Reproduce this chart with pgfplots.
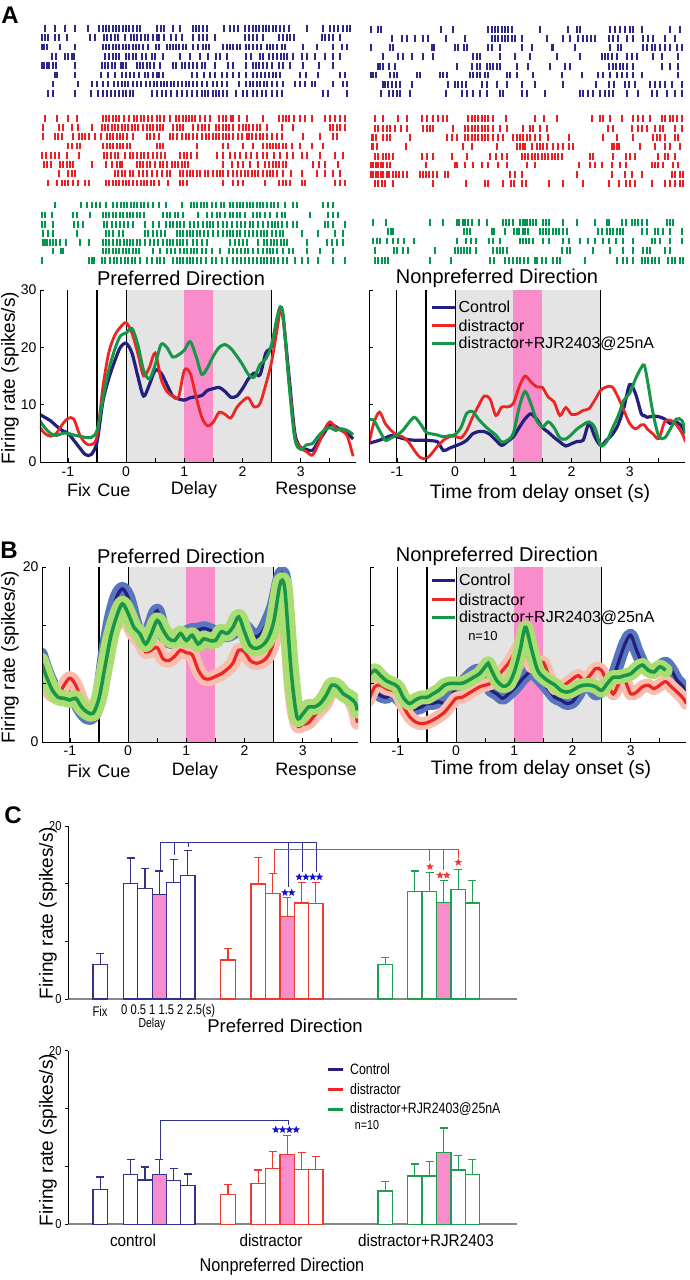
\documentclass[border=0pt]{standalone}
\usepackage{fontspec}
\setmainfont{Liberation Sans}
\usepackage{graphicx}
\usepackage{pgfplots}
\usepackage{pgfplotstable}
\usetikzlibrary{shapes.geometric}
\pgfplotsset{compat=1.18}

\definecolor{cnavy}{RGB}{35,31,125}
\definecolor{cred}{RGB}{236,38,36}
\definecolor{cgreen}{RGB}{24,150,72}
\definecolor{cgray}{RGB}{228,228,228}
\definecolor{cpink}{RGB}{249,140,202}
\definecolor{rblue}{RGB}{45,40,135}
\definecolor{rred}{RGB}{236,30,36}
\definecolor{rgreen}{RGB}{0,150,80}
\definecolor{bandB}{RGB}{88,118,192}
\definecolor{bandR}{RGB}{250,190,175}
\definecolor{bandG}{RGB}{170,222,115}
\definecolor{cbB}{RGB}{50,50,140}
\definecolor{cbR}{RGB}{238,58,48}
\definecolor{cbG}{RGB}{30,160,80}
\definecolor{cbase}{RGB}{135,135,135}
\definecolor{stB}{RGB}{20,20,200}

\newcommand\fs[1]{\fontsize{#1}{#1}\selectfont}
\newcommand\cond[2][0.85]{\scalebox{#1}[1]{#2}}

% raster row: color, row position, spike positions
\newcommand\R[3]{\gdef\pts{}\foreach \rv in {#3}{\xdef\pts{\pts(\rv,#2)}}\edef\tmp{\noexpand\addplot[rast,#1] coordinates {\pts};}\tmp}

\tikzset{vl/.style={black, line width=1.1pt},
 st/.style={star, star points=5, star point ratio=2.3, fill, draw=none, inner sep=0pt, minimum size=8pt}}
\pgfplotsset{
 rast/.style={only marks, mark=|, mark size=3.4pt, line width=1.9pt},
 rastax/.style={scale only axis, width=318pt, height=270pt, anchor=center, ymin=0, ymax=810, y dir=reverse, hide axis, clip=false},
 lp/.style={scale only axis, width=316pt, xmin=-1.48, xmax=3.95, axis lines*=left,
   axis line style={line width=0.9pt}, tick align=inside, major tick length=4pt, minor tick length=4pt,
   xtick={-1,0,1,2,3}, xticklabels={-1,0,1,2,3}, minor xtick={-0.5,0.5,1.5,2.5,3.5},
   tick style={black, line width=0.8pt}, ticklabel style={font=\fs{14}}, axis on top, anchor=south west},
 cbax/.style={scale only axis, width=449pt, xmin=68, xmax=517, ymin=0, ymax=20, axis lines*=left,
   x axis line style={draw=cbase, line width=2pt}, y axis line style={line width=0.8pt},
   xtick=\empty, ytick={0,20}, yticklabels={\cond{0},\cond{20}}, minor ytick={6.667,13.333},
   tick align=outside, major tick length=3pt, minor tick length=3pt, tick style={black, line width=0.8pt},
   ticklabel style={font=\fs{13}}, clip=false, anchor=south west},
 cb/.style={ybar, bar width=14.4, bar shift=0pt, line width=1.2pt,
   error bars/y dir=plus, error bars/y explicit, error bars/error bar style={line width=1.2pt},
   error bars/error mark options={rotate=90, mark size=4pt, line width=1.2pt}},
}

\pgfplotstableread{
t b r g
-1.5 8.4 6.3 7.5
-1.4 7.8 5.0 6.0
-1.3 7.2 4.5 5.0
-1.2 6.3 5.0 4.6
-1.1 5.5 6.5 5.0
-1.0 5.0 7.6 5.0
-0.9 3.8 7.5 4.7
-0.8 2.5 4.8 4.5
-0.7 1.3 3.3 4.3
-0.6 1.3 3.0 4.3
-0.5 3.5 4.5 5.5
-0.4 10.5 13.0 11.0
-0.3 14.5 19.0 16.0
-0.2 17.5 22.0 19.5
-0.1 20.0 23.5 22.0
0.0 20.7 24.3 22.5
0.1 19.0 22.5 23.3
0.2 15.0 19.0 20.5
0.3 11.5 15.0 16.0
0.4 13.5 16.5 14.5
0.5 16.0 19.0 17.0
0.6 15.5 14.5 20.5
0.7 13.5 12.3 20.0
0.8 11.5 11.5 18.3
0.9 11.0 11.3 18.7
1.0 10.8 16.0 19.5
1.1 11.2 15.5 21.0
1.2 11.4 11.5 18.5
1.3 11.6 7.8 15.3
1.4 12.5 6.3 16.5
1.5 12.8 7.0 18.5
1.6 13.0 8.7 20.0
1.7 12.3 8.3 20.5
1.8 11.3 7.7 19.8
1.9 11.5 9.5 18.5
2.0 12.8 10.6 17.0
2.1 14.5 11.2 15.3
2.2 15.5 9.6 14.8
2.3 15.2 10.2 17.0
2.4 19.0 13.5 18.0
2.5 20.2 17.5 20.5
2.6 25.0 23.5 25.5
2.65 27.0 26.5 27.0
2.7 25.0 25.0 25.5
2.8 14.9 14.0 13.5
2.9 5.0 4.5 4.0
3.0 2.5 2.5 2.2
3.1 2.2 1.8 3.0
3.2 2.0 1.2 3.2
3.3 3.5 3.0 4.5
3.4 5.0 5.5 5.5
3.5 6.5 7.0 6.0
3.6 6.2 6.0 5.5
3.7 5.5 5.5 5.8
3.8 5.0 4.5 5.5
3.9 4.0 1.0 4.8
}\tAL

\pgfplotstableread{
t b r g
-1.5 3.2 2.3 7.4
-1.4 3.5 6.7 7.3
-1.3 3.8 8.7 5.5
-1.2 4.2 6.7 3.8
-1.1 4.6 5.5 4.2
-1.0 4.4 4.7 4.7
-0.9 4.1 4.4 5.5
-0.8 3.9 3.5 6.8
-0.7 3.8 2.0 7.8
-0.6 3.8 0.8 6.7
-0.5 3.8 0.6 5.2
-0.4 3.7 1.5 4.9
-0.3 3.5 2.8 4.7
-0.2 2.0 3.8 4.4
-0.1 2.4 4.4 4.6
0.0 2.8 4.5 4.8
0.1 3.2 4.2 6.0
0.2 3.8 5.5 8.5
0.3 4.9 7.8 8.8
0.4 5.3 9.8 7.5
0.5 5.3 11.5 6.4
0.6 4.8 11.0 5.5
0.7 3.8 8.1 4.7
0.8 2.9 9.6 3.5
0.9 3.6 9.6 3.8
1.0 4.4 10.2 5.0
1.1 6.0 13.1 9.5
1.2 7.5 15.0 12.3
1.3 8.4 14.0 10.2
1.4 7.5 13.1 7.3
1.5 6.0 13.0 6.1
1.6 5.2 11.3 7.0
1.7 4.3 10.5 6.0
1.8 3.5 8.1 4.2
1.9 2.8 9.5 4.0
2.0 3.2 8.3 4.8
2.1 3.6 8.4 5.8
2.2 3.8 9.0 6.5
2.3 6.7 9.3 7.0
2.4 4.4 10.8 6.0
2.5 2.9 12.5 2.9
2.6 3.8 13.1 3.5
2.7 4.8 13.1 5.8
2.8 6.5 11.3 8.0
2.9 9.5 9.0 10.8
3.0 13.5 6.7 12.0
3.1 11.9 5.8 14.5
3.2 8.4 6.5 16.5
3.25 8.1 6.5 16.9
3.3 7.8 5.8 14.5
3.4 8.0 4.9 8.5
3.5 7.9 4.1 4.5
3.6 7.5 7.0 4.2
3.7 6.7 7.3 5.8
3.8 7.0 6.5 7.5
3.9 6.1 5.0 7.2
3.96 4.9 3.5 4.9
}\tAR

\pgfplotstableread{
t b r g
-1.5 10.0 6.5 9.3
-1.4 8.0 6.0 7.4
-1.3 6.5 5.3 5.9
-1.2 5.8 5.3 5.1
-1.1 5.5 6.5 5.0
-1.0 5.0 7.3 4.8
-0.9 4.6 6.5 5.0
-0.8 3.5 4.8 4.0
-0.7 2.8 3.8 3.4
-0.6 3.0 3.5 3.3
-0.5 5.0 5.0 5.0
-0.4 10.0 8.5 8.5
-0.3 14.0 12.0 12.0
-0.2 16.5 13.5 14.3
-0.1 17.5 14.0 15.8
0.0 16.5 13.5 14.7
0.1 14.0 12.2 13.1
0.2 12.0 11.5 12.4
0.3 11.5 10.3 11.2
0.4 13.5 10.5 12.4
0.5 15.0 10.8 13.9
0.6 12.5 9.5 12.8
0.7 11.5 9.3 11.8
0.8 11.5 9.8 11.6
0.9 12.0 10.5 12.4
1.0 12.5 10.2 11.6
1.1 12.8 10.0 12.2
1.2 12.8 8.3 11.2
1.3 13.0 7.3 11.8
1.4 12.8 7.2 11.6
1.5 12.5 7.5 11.6
1.6 12.3 7.8 12.6
1.7 12.2 8.3 12.4
1.8 12.5 9.0 13.1
1.9 13.0 10.5 14.3
2.0 13.2 10.3 12.6
2.1 12.5 9.3 11.0
2.2 12.0 9.0 10.7
2.3 12.5 9.2 11.0
2.4 13.8 9.8 11.8
2.5 15.5 11.5 13.7
2.6 18.5 16.0 17.7
2.65 19.3 17.5 18.5
2.7 17.5 15.5 17.0
2.8 8.0 6.0 8.2
2.9 2.5 2.0 2.9
3.0 2.2 2.0 3.2
3.1 3.5 2.2 4.0
3.2 3.8 3.0 4.0
3.3 4.2 3.7 4.4
3.4 5.5 4.5 5.3
3.5 6.3 6.0 6.5
3.6 6.2 6.2 6.3
3.7 5.6 5.5 5.5
3.8 5.0 5.0 5.1
3.9 4.0 3.5 4.5
3.94 3.6 2.2 3.6
}\tBL

\pgfplotstableread{
t b r g
-1.5 5.1 4.8 7.6
-1.4 5.7 6.3 8.2
-1.3 5.3 6.5 7.6
-1.2 5.1 6.1 7.0
-1.1 5.5 5.9 6.7
-1.0 5.0 5.5 6.3
-0.9 4.2 4.0 5.0
-0.8 3.6 2.9 4.4
-0.7 3.8 2.3 4.8
-0.6 4.0 2.1 5.1
-0.5 4.4 2.2 5.1
-0.4 4.4 2.5 5.5
-0.3 4.6 2.9 5.9
-0.2 4.4 3.4 6.5
-0.1 5.1 4.2 6.7
0.0 6.1 5.0 6.7
0.1 6.7 5.1 6.7
0.2 7.4 5.5 7.0
0.3 8.0 5.9 7.4
0.4 8.2 6.3 7.8
0.5 7.0 6.5 8.6
0.55 6.5 6.6 9.0
0.6 5.9 6.7 8.3
0.7 5.5 7.4 7.0
0.8 5.0 8.2 6.4
0.9 5.5 9.0 6.6
1.0 6.1 10.1 8.0
1.1 6.9 11.2 10.5
1.15 7.3 11.4 12.2
1.2 7.6 10.5 13.1
1.3 8.2 8.6 10.5
1.4 7.4 9.0 8.2
1.5 6.7 9.1 7.4
1.6 5.9 7.4 6.9
1.7 5.1 6.1 6.5
1.8 4.8 6.3 5.9
1.9 4.4 6.7 5.7
2.0 4.6 7.2 5.9
2.1 5.5 7.6 6.3
2.2 6.7 7.0 6.5
2.3 6.3 7.6 6.5
2.4 5.5 8.4 6.3
2.5 5.9 8.2 5.9
2.6 6.5 6.7 6.7
2.7 7.4 5.5 7.4
2.8 9.3 6.7 7.4
2.9 11.2 7.0 7.6
3.0 12.2 5.5 7.8
3.1 10.5 5.7 8.4
3.2 9.0 6.3 8.8
3.3 8.2 6.5 8.2
3.4 8.2 6.1 8.0
3.5 8.6 6.5 8.6
3.6 9.0 6.9 8.2
3.7 8.2 6.3 nan
3.8 7.0 5.7 nan
3.9 6.3 5.0 nan
3.96 4.8 4.4 nan
}\tBR

\begin{document}
\begin{tikzpicture}
\path[use as bounding box] (0pt,0pt) rectangle (689pt,-1280pt);

%================ A rasters, left
\begin{axis}[rastax, at={(199pt,-135pt)}, xmin=120, xmax=1074]
\R{rblue}{85}{135,165,195,225,265,298,308,318,328,338,348,358,368,378,388,398,410,420,470,482,492,520,540,578,588,598,608,620,672,690,702,714,735,748,758,768,778,788,798,808,818,828,840,852,868,920,970,990,1002,1015,1028,1040,1050}
\R{rblue}{113}{125,135,145,165,178,200,270,285,312,322,332,345,355,375,392,402,412,422,435,445,458,470,478,492,512,528,545,578,598,610,620,645,735,748,758,770,790,838,850,860,870,882,965,975,988,1000,1020}
\R{rblue}{141}{125,132,140,180,225,308,318,328,338,348,358,368,378,388,398,408,418,430,445,468,478,500,510,520,528,538,548,558,578,595,608,618,628,668,680,690,700,710,720,738,748,758,770,782,800,810,820,830,845,855,910,950,1000,1025,1040}
\R{rblue}{169}{155,168,195,205,215,222,315,328,338,348,358,378,388,398,408,425,438,455,465,490,540,570,600,625,648,660,680,738,752,780,790,808,820,832,842,852,862,880,905,920,945,975,1000,1020}
\R{rblue}{197}{125,132,140,148,158,168,225,305,315,325,335,345,362,370,378,410,420,430,440,450,462,480,518,528,545,555,568,578,592,605,615,645,685,700,738,758,768,778,788,800,815,838,850,870,910,958,1000}
\R{rblue}{225}{165,170,225,303,325,345,365,378,390,402,418,435,445,460,470,478,490,575,590,612,630,645,665,680,700,718,738,760,772,782,795,808,818,828,840,900,918,955,1020,1035}
\R{rblue}{252}{158,235,275,290,308,325,342,355,365,375,385,398,412,422,438,450,462,472,482,492,502,512,522,535,545,558,568,580,592,605,620,638,650,665,680,718,738,750,760,770,780,792,802,815,830,850,885,900,915,935,945,1000,1030,1042}
\R{rblue}{280}{145,158,225,272,295,310,322,332,345,358,368,378,390,398,455,470,485,498,512,530,545,560,575,590,605,615,625,638,648,658,668,680,708,728,742,758,772,785,798,815,830,845,970,985,1040}
\R{rred}{355}{135,170,205,230,308,318,328,338,348,358,372,388,402,412,422,432,445,455,470,480,492,510,528,538,548,558,568,575,585,600,615,630,658,668,678,692,700,718,740,790,838,848,858,868,882,900,915,935,975,990,1005,1020,1035}
\R{rred}{383}{128,178,190,215,235,275,305,315,325,335,345,355,365,375,385,395,405,415,428,440,450,460,470,480,490,518,530,540,550,578,595,605,615,628,648,658,668,678,688,700,718,730,738,748,758,770,780,800,845,880,990,1000,1010,1020,1035}
\R{rred}{410}{130,165,175,185,218,238,245,255,268,285,302,320,330,340,350,360,370,380,400,440,450,462,478,510,520,530,545,558,568,578,592,605,618,628,638,648,658,668,678,688,698,715,725,740,748,755,768,780,790,800,815,830,845,910,960,1000,1010}
\R{rred}{438}{205,215,232,240,310,320,330,340,350,360,370,380,390,470,480,488,590,670,685,730,760,790,800,810,818,828,838,848,858,875,900,935,968}
\R{rred}{466}{125,138,152,165,178,200,238,312,322,332,345,355,375,390,398,412,422,432,445,458,470,482,495,540,552,562,572,590,650,668,690,705,720,738,752,770,790,800,822,840,860,880,905,920,960,1005,1030}
\R{rred}{493}{132,142,152,180,190,200,210,220,275,318,335,350,360,365,410,420,430,440,450,465,480,490,500,515,525,535,545,555,565,670,695,715,730,750,775,795,808,818,828,838,848,858,938,958,975,1015}
\R{rred}{521}{178,205,215,225,345,355,365,375,390,400,418,428,440,455,470,485,500,510,540,550,560,570,580,590,600,615,625,640,650,660,670,685,700,712,722,735,745,755,765,775,790,800,810,820,830,850,872,905,950,975,1000,1020}
\R{rred}{549}{145,170,185,195,205,220,235,255,268,318,328,338,348,358,368,378,388,398,410,422,432,442,452,462,478,505,540,550,560,670,700,715,728,795,838,848,858,870,905,915,1005,1020,1035}
\R{rgreen}{615}{165,242,262,275,288,300,318,338,352,362,372,382,392,402,412,422,432,445,458,478,498,545,572,582,592,602,612,622,635,648,662,672,690,700,710,720,730,740,750,760,770,780,790,800,812,822,835,855,880,890,968,985,1000}
\R{rgreen}{645}{125,135,155,218,232,270,308,318,328,338,348,360,370,380,390,400,410,420,432,490,500,510,525,535,548,595,620,635,650,660,675,690,700,710,720,735,760,770,780,795,810,830,845,855,930,985,1000,1015}
\R{rgreen}{673}{125,135,160,222,235,248,312,322,335,348,360,372,385,398,435,458,478,498,510,520,530,540,552,570,582,595,610,620,630,640,655,668,680,695,710,722,735,750,760,775,790,805,815,825,835,845,860,878,890,975,985,1000,1035}
\R{rgreen}{700}{130,145,160,232,318,328,338,358,368,435,445,458,470,482,495,530,540,550,560,570,580,590,600,612,625,640,655,670,680,690,700,710,720,735,748,760,772,782,792,802,815,828,840,850,905,955,1005,1030}
\R{rgreen}{728}{128,135,142,150,158,168,180,198,240,268,308,318,328,340,350,360,372,380,390,400,410,420,435,450,462,475,488,500,510,520,530,540,550,560,578,590,605,620,690,705,718,730,742,775,792,802,812,822,832,842,852,862,922,980,995,1010,1030}
\R{rgreen}{753}{158,182,190,308,318,328,338,348,358,368,378,388,398,408,418,460,480,500,512,525,540,552,562,572,582,592,605,618,635,660,688,698,710,722,735,745,760,775,790,800,810,820,830,850,868,880,920,960,1000}
\R{rgreen}{782}{125,268,275,282,305,315,330,342,352,362,375,385,395,405,420,440,455,470,480,492,520,530,540,550,560,570,580,590,602,618,635,648,665,682,700,712,722,735,748,760,772,782,792,802,812,822,835,850,860,885,905,925,955,1000,1035}
\end{axis}

%================ A rasters, right
\begin{axis}[rastax, at={(528pt,-135pt)}, xmin=87, xmax=1041]
\R{rblue}{88}{92,115,122,303,340,445,455,465,475,485,495,505,515,600,685,710,720,810,825,840,855,870,880,905,990,1020}
\R{rblue}{115}{155,185,200,225,250,265,318,375,455,465,475,485,495,505,515,525,545,620,670,690,715,728,740,752,765,808,820,835,860,880,910,925,940,975,1005}
\R{rblue}{143}{92,150,158,275,282,345,355,372,380,445,455,480,545,575,635,640,705,810,835,842,910,920,935,945,960,975,990,1010,1025}
\R{rblue}{170}{128,175,190,215,250,278,400,410,420,480,525,570,650,720,785,795,805,815,830,860,875,890,940,965,1015}
\R{rblue}{200}{113,120,128,148,165,350,395,410,420,440,450,460,470,480,530,565,630,675,690,808,818,828,840,850,860,880,965,990,1015}
\R{rblue}{225}{92,100,108,150,162,170,230,240,300,308,320,390,400,410,420,435,445,500,510,530,580,665,725,775,788,810,830,845,860,880,905,1015}
\R{rblue}{253}{128,135,145,155,168,180,215,325,345,355,365,378,425,440,470,500,545,585,670,768,808,822,855,868,885,930,945,960,975,995,1025}
\R{rblue}{280}{122,148,160,170,180,210,318,365,380,400,420,440,480,490,545,560,615,720,730,745,760,780,795,808,820,860,895,935,950,980,1005,1025}
\R{rred}{355}{105,128,175,200,245,262,280,295,310,320,385,395,405,415,425,435,445,458,498,585,612,650,755,780,790,810,845,880,895,910,930,965,975,990,1000,1010,1025}
\R{rred}{385}{105,115,130,142,150,165,182,200,250,260,270,280,338,375,385,395,405,415,425,435,445,458,480,500,548,570,578,600,620,805,818,875,895,905,920,945,960,970,1005,1025}
\R{rred}{412}{95,100,108,130,140,150,210,322,335,350,375,385,395,405,415,425,435,445,460,475,490,520,530,540,550,560,570,585,600,625,688,790,830,878,940,950,960,975,1005,1015}
\R{rred}{440}{95,100,112,198,370,395,470,530,540,548,555,575,590,600,610,620,640,655,670,688,700,815,822,830,838,900,945,975,990,1020}
\R{rred}{470}{105,115,130,138,148,160,245,262,278,335,382,450,468,485,500,545,555,565,575,585,595,605,615,625,635,645,655,665,750,760,818,858,870,885,955,975,985,1005}
\R{rred}{495}{92,100,108,115,122,130,140,150,258,345,352,375,400,425,445,475,500,560,585,718,750,765,785,815,840,858,935,945,955,970,1000,1015}
\R{rred}{523}{92,100,108,115,122,130,140,148,158,168,178,190,200,240,250,258,268,280,292,315,325,510,525,545,712,815,855,875,905,995,1005,1020,1030}
\R{rred}{550}{105,115,125,135,160,278,378,435,445,490,512,522,545,558,628,668,728,808,838,858,870,885,935,975,990,1005,1020,1030}
\R{rgreen}{667}{100,138,270,310,350,358,368,375,385,395,418,440,490,498,508,518,540,548,555,562,570,578,588,608,618,628,668,710,765,800,808,845,858,875,885,895,905,920,980,990,1000}
\R{rgreen}{695}{145,152,160,372,380,390,455,462,495,522,530,538,548,555,565,600,608,618,628,638,648,658,668,680,775,785,800,810,820,830,840,850,905,920,945,955,970,990,1025}
\R{rgreen}{723}{100,110,120,140,160,175,192,222,350,378,392,408,448,460,480,540,548,558,568,578,608,628,668,688,720,745,765,790,808,828,848,880,935,945,960,990,1025}
\R{rgreen}{752}{105,162,170,190,205,285,345,355,362,372,380,390,408,460,470,480,490,500,665,680,690,760,810,850,880,908,920,930,975,990}
\R{rgreen}{782}{105,115,125,135,145,270,332,450,462,495,508,520,530,540,552,565,585,592,605,618,640,650,660,735,830,848,862,880,905,915,925,935,945,958,985,995,1005,1020,1030}
\end{axis}

%================ A line plots
\begin{axis}[lp, at={(40pt,-462pt)}, height=172pt, ymin=0, ymax=30, ytick={0,10,20,30}, yticklabels={0,10,20,30}, xticklabel style={yshift=-1pt}]
\fill[cgray] (axis cs:0,0) rectangle (axis cs:2.5,30);
\fill[cpink] (axis cs:1,0) rectangle (axis cs:1.5,30);
\pgfplotsinvokeforeach{-1,-0.5,0,2.5}{\draw[vl] (axis cs:#1,0) -- (axis cs:#1,30);}
\addplot[cnavy, line width=3.2pt, smooth] table[x=t,y=b]{\tAL};
\addplot[cred, line width=2.8pt, smooth] table[x=t,y=r]{\tAL};
\addplot[cgreen, line width=3pt, smooth] table[x=t,y=g]{\tAL};
\end{axis}

\begin{axis}[lp, at={(369pt,-462pt)}, height=172pt, ymin=0, ymax=30, ytick={0,10,20,30}, yticklabels={,,,}, xticklabel style={yshift=-1pt}]
\fill[cgray] (axis cs:0,0) rectangle (axis cs:2.5,30);
\fill[cpink] (axis cs:1,0) rectangle (axis cs:1.5,30);
\pgfplotsinvokeforeach{-1,-0.5,0,2.5}{\draw[vl] (axis cs:#1,0) -- (axis cs:#1,30);}
\draw[cnavy, line width=3pt] (axis cs:-0.40,27.0) -- (axis cs:0,27.0);
\draw[cred, line width=3pt] (axis cs:-0.40,23.8) -- (axis cs:0,23.8);
\draw[cgreen, line width=3pt] (axis cs:-0.40,20.6) -- (axis cs:0,20.6);
\node[anchor=west, font=\fs{16}, inner sep=1pt] at (axis cs:0.04,27.0) {Control};
\node[anchor=west, font=\fs{16}, inner sep=1pt] at (axis cs:0.04,23.8) {distractor};
\node[anchor=west, font=\fs{16}, inner sep=1pt] at (axis cs:0.04,20.6) {distractor+RJR2403@25nA};
\addplot[cnavy, line width=3.2pt, smooth] table[x=t,y=b]{\tAR};
\addplot[cred, line width=2.8pt, smooth] table[x=t,y=r]{\tAR};
\addplot[cgreen, line width=3pt, smooth] table[x=t,y=g]{\tAR};
\end{axis}

%================ B line plots
\begin{axis}[lp, at={(42pt,-742pt)}, height=175pt, ymin=0, ymax=20, ytick={0,20}, yticklabels={0,20}, minor ytick={6.667,13.333}]
\fill[cgray] (axis cs:0,0) rectangle (axis cs:2.5,20);
\fill[cpink] (axis cs:1,0) rectangle (axis cs:1.5,20);
\pgfplotsinvokeforeach{-1,-0.5,0,2.5}{\draw[vl] (axis cs:#1,0) -- (axis cs:#1,20);}
\addplot[bandB, line width=14pt, smooth, line join=round, line cap=round] table[x=t,y=b]{\tBL};
\addplot[cnavy, line width=3.2pt, smooth] table[x=t,y=b]{\tBL};
\addplot[bandR, line width=14pt, smooth, line join=round, line cap=round] table[x=t,y=r]{\tBL};
\addplot[cred, line width=3.2pt, smooth] table[x=t,y=r]{\tBL};
\addplot[bandG, line width=16pt, smooth, line join=round, line cap=round] table[x=t,y=g]{\tBL};
\addplot[cgreen, line width=3.5pt, smooth] table[x=t,y=g]{\tBL};
\end{axis}

\begin{axis}[lp, at={(370pt,-742pt)}, height=175pt, ymin=0, ymax=20, ytick={0,20}, yticklabels={,}, minor ytick={6.667,13.333}]
\fill[cgray] (axis cs:0,0) rectangle (axis cs:2.5,20);
\fill[cpink] (axis cs:1,0) rectangle (axis cs:1.5,20);
\pgfplotsinvokeforeach{-1,-0.5,0,2.5}{\draw[vl] (axis cs:#1,0) -- (axis cs:#1,20);}
\draw[cnavy, line width=3pt] (axis cs:-0.41,18.5) -- (axis cs:-0.02,18.5);
\draw[cred, line width=3pt] (axis cs:-0.41,16.3) -- (axis cs:-0.02,16.3);
\draw[cgreen, line width=3pt] (axis cs:-0.41,14.2) -- (axis cs:-0.02,14.2);
\node[anchor=west, font=\fs{16}, inner sep=1pt] at (axis cs:0.03,18.5) {Control};
\node[anchor=west, font=\fs{16}, inner sep=1pt] at (axis cs:0.03,16.3) {distractor};
\node[anchor=west, font=\fs{16}, inner sep=1pt] at (axis cs:0.03,14.2) {distractor+RJR2403@25nA};
\node[font=\fs{13}] at (axis cs:0.46,12.1) {n=10};
\addplot[bandB, line width=13pt, smooth, line join=round, line cap=round] table[x=t,y=b]{\tBR};
\addplot[cnavy, line width=3.2pt, smooth] table[x=t,y=b]{\tBR};
\addplot[bandR, line width=13pt, smooth, line join=round, line cap=round] table[x=t,y=r]{\tBR};
\addplot[cred, line width=3.2pt, smooth] table[x=t,y=r]{\tBR};
\addplot[bandG, line width=14pt, smooth, line join=round, line cap=round] table[x=t,y=g]{\tBR};
\addplot[cgreen, line width=3.5pt, smooth] table[x=t,y=g]{\tBR};
\end{axis}

%================ C top bars
\begin{axis}[cbax, at={(68pt,-999pt)}, height=173pt]
\addplot[cb, cbB, fill=white] coordinates {(100.2,3.96) +- (0,1.34) (130.5,13.4) +- (0,2.9) (145,12.8) +- (0,2.3) (173.5,13.5) +- (0,2.6) (187.8,14.3) +- (0,2.9)};
\addplot[cb, cbB, fill=cpink] coordinates {(159.3,12.1) +- (0,2.7)};
\addplot[cb, cbR, fill=white] coordinates {(228,4.5) +- (0,1.3) (258.2,13.3) +- (0,3.1) (272.8,12.2) +- (0,2.3) (301.5,11.1) +- (0,2.4) (315.7,11.0) +- (0,2.5)};
\addplot[cb, cbR, fill=cpink] coordinates {(287.2,9.5) +- (0,2.2)};
\addplot[cb, cbG, fill=white] coordinates {(385.2,4.0) +- (0,0.8) (414.8,12.4) +- (0,2.4) (429.5,12.4) +- (0,2.2) (458.2,12.65) +- (0,2.35) (472.3,11.1) +- (0,2.6)};
\addplot[cb, cbG, fill=cpink] coordinates {(443.8,11.2) +- (0,2.5)};
% significance brackets
\draw[cbB, line width=1pt] (axis cs:160,14.8) |- (axis cs:316.7,18.1) -- (axis cs:316.7,14.7);
\draw[cbB, line width=1pt] (axis cs:174,18.1) -- (axis cs:174,16.65);
\draw[cbB, line width=1pt] (axis cs:188.3,18.1) -- (axis cs:188.3,17.6);
\draw[cbB, line width=1pt] (axis cs:288.7,18.1) -- (axis cs:288.7,12.9);
\draw[cbB, line width=1pt] (axis cs:302.7,18.1) -- (axis cs:302.7,14.7);
\draw[cbR, line width=1pt] (axis cs:274,14.5) |- (axis cs:458.3,17.3) -- (axis cs:458.3,16.3);
\draw[cbR, line width=1pt] (axis cs:429,17.3) -- (axis cs:429,15.9);
\draw[cbR, line width=1pt] (axis cs:443.3,17.3) -- (axis cs:443.3,14.9);
\pgfplotsinvokeforeach{284.9,291.7}{\node[st, stB] at (axis cs:#1,12.3) {};}
\pgfplotsinvokeforeach{299.1,305.9,312.7,319.5}{\node[st, stB] at (axis cs:#1,14.1) {};}
\node[st, cbR] at (axis cs:430,15.3) {};
\pgfplotsinvokeforeach{440,446.8}{\node[st, cbR] at (axis cs:#1,14.3) {};}
\node[st, cbR] at (axis cs:458.3,15.8) {};
\end{axis}

%================ C bottom bars
\begin{axis}[cbax, at={(68pt,-1224.3pt)}, height=173.6pt]
\addplot[cb, cbB, fill=white] coordinates {(100.2,4.0) +- (0,1.45) (130.5,5.76) +- (0,1.74) (145,5.1) +- (0,1.5) (173.5,5.07) +- (0,1.38) (187.8,4.5) +- (0,1.3)};
\addplot[cb, cbB, fill=cpink] coordinates {(159.3,5.76) +- (0,1.74)};
\addplot[cb, cbR, fill=white] coordinates {(228,3.4) +- (0,1.2) (258.2,4.7) +- (0,1.56) (272.8,6.45) +- (0,1.92) (301.5,6.3) +- (0,1.95) (315.7,6.3) +- (0,1.5)};
\addplot[cb, cbR, fill=cpink] coordinates {(287.2,8.0) +- (0,2.2)};
\addplot[cb, cbG, fill=white] coordinates {(385.2,3.84) +- (0,1.06) (414.8,5.57) +- (0,1.38) (429.5,5.57) +- (0,1.63) (458.2,6.26) +- (0,1.69) (472.3,5.76) +- (0,1.74)};
\addplot[cb, cbG, fill=cpink] coordinates {(443.8,8.3) +- (0,2.8)};
\draw[cbB, line width=1pt] (axis cs:160,7.5) |- (axis cs:288.3,12.0) -- (axis cs:288.3,11.4);
\pgfplotsinvokeforeach{275.8,282.6,289.4,296.2}{\node[st, stB] at (axis cs:#1,10.9) {};}
\end{axis}

%================ annotations
\begin{scope}[x=1pt,y=-1pt]
\node[font=\bfseries\fs{24}] at (10,15) {A};
\node[font=\bfseries\fs{24}] at (9,550) {B};
\node[font=\bfseries\fs{24}] at (13,815) {C};
% A
\node[font=\fs{20}] at (181,278) {Preferred Direction};
\node[font=\fs{20}] at (497,278) {Nonpreferred Direction};
\node[font=\fs{19}, rotate=90] at (10,378) {Firing rate (spikes/s)};
\node[font=\fs{18}] at (79,490) {Fix};
\node[font=\fs{18}] at (114,490) {Cue};
\node[font=\fs{18}] at (194,490) {Delay};
\node[font=\fs{18}] at (316,490) {Response};
\node[font=\fs{19.5}] at (540,493) {Time from delay onset (s)};
% B
\node[font=\fs{20}] at (181,556) {Preferred Direction};
\node[font=\fs{20}] at (497,556) {Nonpreferred Direction};
\node[font=\fs{19}, rotate=90] at (10,657) {Firing rate (spikes/s)};
\node[font=\fs{18}] at (79,771) {Fix};
\node[font=\fs{18}] at (114,771) {Cue};
\node[font=\fs{18}] at (195,771) {Delay};
\node[font=\fs{18}] at (316,771) {Response};
\node[font=\fs{19.5}] at (541,769) {Time from delay onset (s)};
% C top
\node[font=\fs{19}, rotate=90] at (48,913) {Firing rate (spikes/s)};
\node[font=\fs{14}] at (100,1011) {\cond[0.8]{Fix}};
\node[font=\fs{14}, anchor=west, inner sep=0pt] at (121,1011) {\cond[0.8]{0 0.5 1 1.5 2 2.5(s)}};
\node[font=\fs{13}] at (152,1024) {\cond[0.8]{Delay}};
\node[font=\fs{18.5}] at (285,1026) {Preferred Direction};
% C bottom
\node[font=\fs{19}, rotate=90] at (48,1140) {Firing rate (spikes/s)};
\draw[cnavy, line width=3pt] (328,1069) -- (343,1069);
\draw[cred, line width=3pt] (328,1089) -- (343,1089);
\draw[cgreen, line width=3pt] (328,1109) -- (343,1109);
\node[font=\fs{15}, anchor=west, inner sep=0pt] at (350,1069) {\cond[0.82]{Control}};
\node[font=\fs{15}, anchor=west, inner sep=0pt] at (350,1089) {\cond[0.82]{distractor}};
\node[font=\fs{15}, anchor=west, inner sep=0pt] at (350,1109) {\cond[0.82]{distractor+RJR2403@25nA}};
\node[font=\fs{13}] at (367,1125) {\cond[0.82]{n=10}};
\node[font=\fs{17}] at (133,1240) {\cond[0.9]{control}};
\node[font=\fs{17}] at (271,1240) {\cond[0.9]{distractor}};
\node[font=\fs{17}] at (426,1240) {\cond[0.9]{distractor+RJR2403}};
\node[font=\fs{18.5}] at (282,1267) {\cond[0.88]{Nonpreferred Direction}};
\end{scope}
\end{tikzpicture}
\end{document}
